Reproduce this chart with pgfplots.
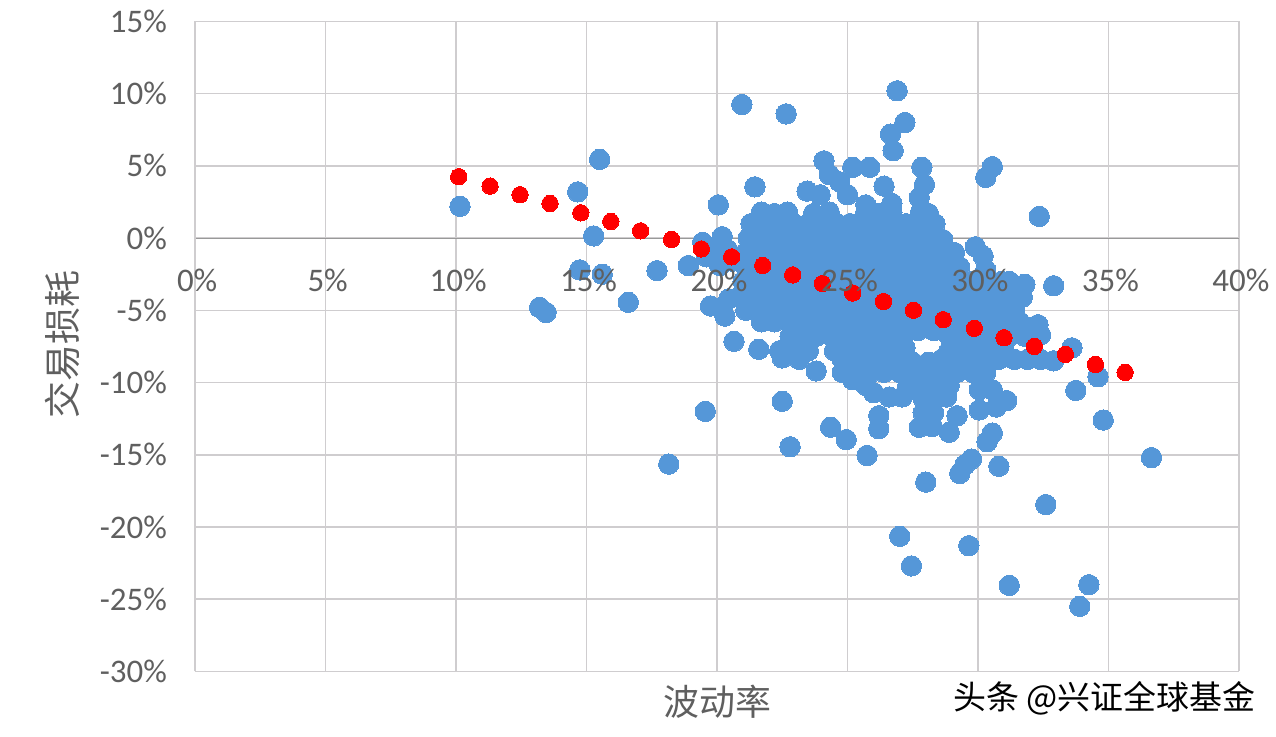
\documentclass[border=0pt]{standalone}
\usepackage{fontspec}
\setmainfont{Carlito}
\newfontfamily\cjk{Noto Sans CJK SC}
\usepackage{pgfplots}
\pgfplotsset{compat=1.18}
\definecolor{dotblue}{HTML}{5597D8}
\definecolor{gridgray}{HTML}{CFCDCF}
\definecolor{labelgray}{HTML}{5F5F5F}
% tick labels sit above the funds, the red dots above the labels
\pgfplotsset{layers/labelsontop/.define layer set={axis background,axis grid,axis ticks,axis lines,pre main,main,axis tick labels,axis descriptions,axis foreground}{
    grid style={/pgfplots/on layer=axis grid},
    tick style={/pgfplots/on layer=axis ticks},
    axis line style={/pgfplots/on layer=axis lines},
    tick label style={/pgfplots/on layer=axis tick labels},
    label style={/pgfplots/on layer=axis descriptions},
}}
\begin{document}
\begin{tikzpicture}
\path (0,0) (638pt,369pt);
\begin{axis}[
    at={(97.75pt,32.75pt)}, anchor=south west,
    set layers=labelsontop,
    scale only axis, width=522.75pt, height=325.5pt,
    xmin=0, xmax=40, ymin=-30, ymax=15,
    axis x line=middle, axis y line=left,
    hide obscured x ticks=false,
    axis line style={-, color=gray!80, line width=0.5pt},
    y axis line style={color=gridgray},
    xtick={0,5,...,40}, ytick={-30,-25,...,15},
    xticklabels={0\%,5\%,10\%,15\%,20\%,25\%,30\%,35\%,40\%},
    yticklabels={-30\%,-25\%,-20\%,-15\%,-10\%,-5\%,0\%,5\%,10\%,15\%},
    tick style={draw=none},
    tick label style={font=\fontsize{16.5}{16.5}\selectfont, text=labelgray},
    xticklabel style={yshift=-10pt, xshift=1pt},
    yticklabel style={xshift=-8.5pt},
    grid=major, grid style={gridgray, line width=0.8pt},
    xlabel={\cjk 波动率}, ylabel={\cjk 交易损耗},
    xlabel style={at={(rel axis cs:0.5,0)}, anchor=center, yshift=-15pt, font=\fontsize{18}{18}\selectfont, text=labelgray},
    ylabel style={at={(rel axis cs:0,0.503)}, anchor=center, yshift=66.5pt, font=\fontsize{18.5}{18.5}\selectfont, text=labelgray},
]
% funds
\addplot[only marks, dotblue, mark=*, mark size=5.1pt, mark options={draw=dotblue, fill=dotblue, line width=0pt}] coordinates {
(10.15,2.2)(14.66,3.2)(15.5,5.45)(15.27,0.15)(14.74,-2.2)(15.6,-2.5)(13.2,-4.8)(13.45,-5.15)
(16.6,-4.45)(17.7,-2.25)(18.9,-1.9)(19.45,-0.3)(20.2,0.1)(19.9,-0.9)(20.4,-0.8)(19.6,-1.3)
(20.1,-1.9)(20.6,-1.6)(19.75,-4.7)(20.3,-5.4)(20.45,-4.2)(20.65,-7.15)(21.6,-7.7)(19.55,-12)
(18.15,-15.65)(22.5,-11.3)(22.8,-14.45)(24.35,-13.1)(24.95,-13.95)(25.75,-15.05)(26.2,-12.3)(26.2,-13.2)
(20.95,9.25)(22.65,8.6)(26.9,10.2)(27.2,8)(26.65,7.2)(26.75,6.05)(20.05,2.3)(21.45,3.55)
(23.45,3.25)(23.95,3)(24.1,5.35)(25.2,4.9)(25.85,4.9)(24.3,4.4)(24.7,3.9)(25,3)
(26.4,3.6)(27.85,4.9)(27.95,3.7)(27.75,2.8)(26.7,2.4)(25.7,2.3)(30.55,4.95)(30.3,4.2)
(32.35,1.5)(33.6,-7.6)(32.9,-3.3)(31.8,-3.2)(33.75,-10.55)(34.6,-9.6)(34.8,-12.6)(36.65,-15.2)
(32.6,-18.45)(28,-16.9)(29.3,-16.3)(29.5,-15.7)(29.75,-15.3)(30.8,-15.8)(30.55,-13.5)(30.35,-14.1)
(27,-20.65)(27.45,-22.7)(29.65,-21.3)(31.2,-24.05)(34.25,-24)(33.9,-25.5)(29.2,-12.3)(28.9,-13.45)
(28.25,-13.05)(27.75,-13.1)(27.9,-12.1)(28.3,-12.1)(26.6,-11)(27.1,-11)(26,-10.7)(25.7,-10.2)
(25.2,-9.8)(27.3,-10.3)(27.9,-10.3)(28.4,-10.2)(28.9,-10.2)(27.9,-11.1)(28.4,-11.1)(28.8,-11)
(30.05,-10.5)(30.55,-10.5)(30.05,-11.9)(30.7,-11.7)(31.1,-11.25)(29.9,-0.6)(30.2,-1.25)(30.3,-2.2)
(23.15,-8.4)(23.8,-9.2)(32.3,-6)(32.4,-6.7)(31.7,-4.1)
% dense cloud, row by row
(21.7,1.8)(22.2,1.7)(22.7,1.8)(23.7,1.7)(24.3,1.8)(25.7,1.8)(26.2,1.7)(26.7,1.8)(27.8,1.8)(28.1,1.7)
(21.3,1)(21.85,1)(22.4,1.1)(22.95,1)(23.5,1)(24.05,1.1)(24.6,1)(25.1,1)(25.6,1)(26.15,1.1)(26.7,1)(27.25,1)(27.8,1.1)(28.35,1)
(21.2,0)(21.8,0)(22.3,0)(22.9,0)(23.4,0)(24,0)(24.5,0)(25.1,0)(25.6,0)(26.2,0)(26.7,0)(27.3,0)(27.8,0)(28.3,0)(28.65,-0.1)
(21.1,-1)(21.6,-1)(22.2,-1)(22.7,-1)(23.3,-1)(23.8,-1)(24.4,-1)(24.9,-1)(25.5,-1)(26,-1)(26.6,-1)(27.1,-1)(27.7,-1)(28.2,-1)(28.8,-1)(29.1,-1)
(21.1,-2)(21.7,-2)(22.2,-2)(22.8,-2)(23.3,-2)(23.9,-2)(24.4,-2)(25,-2)(25.5,-2)(26.1,-2)(26.6,-2)(27.2,-2)(27.7,-2)(28.3,-2)(28.8,-2)(29.3,-2)
(21,-3)(21.5,-3)(22.1,-3)(22.6,-3)(23.2,-3)(23.7,-3)(24.3,-3)(24.8,-3)(25.4,-3)(25.9,-3)(26.5,-3)(27,-3)(27.6,-3)(28.1,-3)(28.7,-3)(29.2,-3)(29.8,-3)(30.3,-3)(30.9,-3)(31.2,-3)
(20.9,-4)(21.4,-4)(22,-4)(22.5,-4)(23.1,-4)(23.6,-4)(24.2,-4)(24.7,-4)(25.3,-4)(25.8,-4)(26.4,-4)(26.9,-4)(27.5,-4)(28,-4)(28.6,-4)(29.1,-4)(29.7,-4)(30.2,-4)(30.8,-4)(31.3,-4)
(21.1,-5)(21.6,-5)(22.1,-5)(22.7,-5)(23.2,-5)(23.8,-5)(24.3,-5)(24.9,-5)(25.4,-5)(26,-5)(26.5,-5)(27.1,-5)(27.6,-5)(28.2,-5)(28.7,-5)(29.3,-5)(29.8,-5)(30.4,-5)(30.9,-5)(31.4,-5)
(21.7,-5.8)(22.2,-5.8)(22.8,-5.8)(23.3,-5.8)(23.9,-5.8)(24.4,-5.8)(25,-5.8)(25.5,-5.8)(26.1,-5.8)(26.6,-5.8)(27.2,-5.8)(27.7,-5.8)(28.3,-5.8)(28.8,-5.8)(29.4,-5.8)(29.9,-5.8)(30.5,-5.8)(31,-5.8)(31.6,-5.8)
(22.8,-6.8)(23.3,-6.8)(23.8,-6.8)(24.4,-6.8)(25,-6.8)(25.5,-6.8)(26.1,-6.8)(26.6,-6.8)(27.2,-6.6)(27.7,-6.4)(28.3,-6.4)(28.9,-6.8)(29.4,-6.8)(30,-6.8)(30.6,-6.8)(31.2,-6.8)(31.8,-6.8)
(22.4,-7.8)(22.9,-7.8)(23.5,-7.8)(24.5,-7.8)(25,-7.8)(25.6,-7.8)(26.1,-7.8)(26.7,-7.8)(27.2,-7.6)(28.9,-7.8)(29.4,-7.8)(30,-7.8)(30.5,-7.8)(31,-7.8)
(22.5,-8.3)(24.8,-8.4)(25.3,-8.4)(25.9,-8.4)(26.4,-8.4)(27,-8.4)(27.5,-8.6)(28.1,-8.6)(28.6,-8.4)(29.2,-8.4)(29.7,-8.4)(30.3,-8.4)(30.8,-8.4)(31.4,-8.4)(31.9,-8.4)(32.4,-8.4)(32.9,-8.5)
(24.8,-9.3)(25.3,-9.3)(25.9,-9.3)(26.4,-9.3)(27,-9.3)(27.5,-9.3)(28.1,-9.3)(28.6,-9.3)(29.2,-9.3)(29.8,-9.3)(30.3,-9.3)
};
% fitted trend
\addplot[only marks, on layer=axis foreground, red, mark=*, mark size=4.1pt, mark options={draw=red, fill=red, line width=0pt}] coordinates {
(10.1,4.25)(11.3,3.6)(12.45,3)(13.6,2.4)(14.78,1.75)(15.93,1.15)(17.07,0.5)(18.26,-0.1)
(19.4,-0.75)(20.56,-1.3)(21.75,-1.9)(22.9,-2.55)(24.04,-3.15)(25.2,-3.8)(26.38,-4.4)(27.53,-5)
(28.67,-5.65)(29.86,-6.25)(31,-6.9)(32.16,-7.5)(33.35,-8.05)(34.5,-8.75)(35.64,-9.3)
};
\end{axis}
\node[anchor=west, font=\fontsize{16.5}{16.5}\selectfont\cjk, text=black] at (474pt,19pt) {头条 @兴证全球基金};
\end{tikzpicture}
\end{document}
